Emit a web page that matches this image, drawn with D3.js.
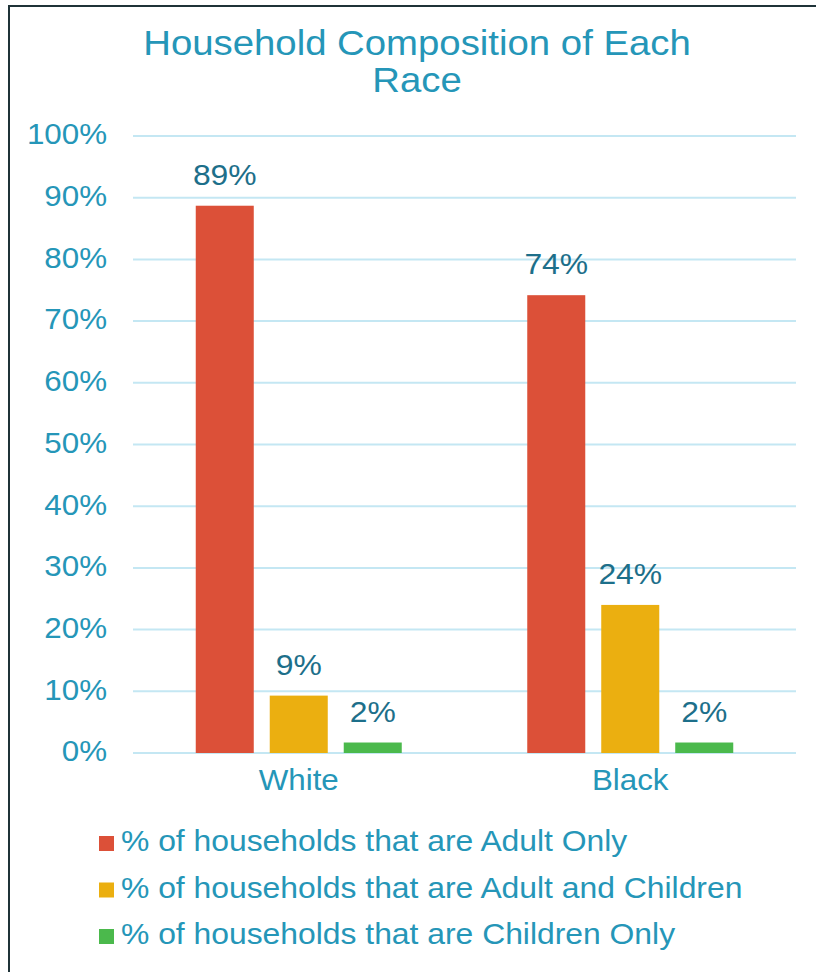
<!DOCTYPE html>
<html>
<head>
<meta charset="utf-8">
<script src="https://cdn.jsdelivr.net/npm/d3@7"></script>
<style>
  html, body { margin: 0; padding: 0; background: #fff; }
  svg { display: block; font-family: "Liberation Sans", Arial, Helvetica, sans-serif; }
</style>
</head>
<body>
<svg id="chart" width="816" height="972"></svg>
<script>
// Household composition by race (share of households)
const categories = ["White", "Black"];
const seriesNames = [
  "% of households that are Adult Only",
  "% of households that are Adult and Children",
  "% of households that are Children Only"
];
const adultOnly = [0.887, 0.742];
const adultAndChildren = [0.093, 0.240];
const childrenOnly = [0.017, 0.017];
const yTicks = [0, 0.1, 0.2, 0.3, 0.4, 0.5, 0.6, 0.7, 0.8, 0.9, 1.0];
const titleLines = ["Household Composition of Each", "Race"];

const seriesValues = [adultOnly, adultAndChildren, childrenOnly];
const colors = ["#DC5038", "#EBAF10", "#4BB94C"];

const SX = 1.08; // horizontal widening of glyphs
const teal = "#2596B8";
const darkTeal = "#1D6F8A";
const gridColor = "#C4E7F3";

const svg = d3.select("#chart");

// frame lines (left and top)
svg.append("line").attr("x1", 9).attr("x2", 9).attr("y1", 5).attr("y2", 972)
  .attr("stroke", "#1F3338").attr("stroke-width", 2);
svg.append("line").attr("x1", 8).attr("x2", 816).attr("y1", 6).attr("y2", 6)
  .attr("stroke", "#1F3338").attr("stroke-width", 2);

const plot = { left: 133, right: 796, top: 136, bottom: 753 };

const y = d3.scaleLinear().domain([0, 1]).range([plot.bottom, plot.top]);
const x0 = d3.scaleBand().domain(categories).range([plot.left, plot.right]).padding(0);
const x1 = d3.scaleBand().domain(d3.range(seriesNames.length))
  .range([0, x0.bandwidth()]).paddingInner(0.216).paddingOuter(0.848);

function placeText(g, x, yPos, text, size, anchor, fill) {
  return g.append("text")
    .attr("transform", `translate(${x},${yPos}) scale(${SX},1)`)
    .attr("text-anchor", anchor)
    .attr("font-size", size)
    .attr("fill", fill)
    .text(text);
}

// title
titleLines.forEach((t, i) => {
  placeText(svg, 417, 55 + i * 37, t, 35.5, "middle", teal);
});

// gridlines
svg.append("g").selectAll("line").data(yTicks).join("line")
  .attr("x1", plot.left).attr("x2", plot.right)
  .attr("y1", d => y(d)).attr("y2", d => y(d))
  .attr("stroke", gridColor).attr("stroke-width", 2);

// y axis labels
const yAxis = svg.append("g").attr("transform", `translate(${plot.left},0)`)
  .call(d3.axisLeft(y).tickValues(yTicks).tickFormat(d3.format(".0%")).tickSize(0).tickPadding(26));
yAxis.select(".domain").remove();
yAxis.selectAll("text")
  .attr("font-family", null)
  .attr("font-size", 29)
  .attr("fill", teal)
  .attr("x", -26 / SX)
  .attr("dy", "0.27em")
  .attr("transform", `scale(${SX},1)`);

// bars
const groups = svg.append("g").selectAll("g").data(categories).join("g")
  .attr("transform", d => `translate(${x0(d)},0)`);

groups.each(function (cat, ci) {
  const g = d3.select(this);
  seriesValues.forEach((vals, si) => {
    const v = vals[ci];
    g.append("rect")
      .attr("x", x1(si))
      .attr("width", x1.bandwidth())
      .attr("y", y(v))
      .attr("height", y(0) - y(v))
      .attr("fill", colors[si]);
    placeText(g, x1(si) + x1.bandwidth() / 2, y(v) - 21, d3.format(".0%")(v), 29.5, "middle", darkTeal);
  });
});

// category labels
categories.forEach(c => {
  placeText(svg, x0(c) + x0.bandwidth() / 2, 790, c, 29, "middle", teal);
});

// legend
const legend = svg.append("g").attr("transform", "translate(99,0)");
seriesNames.forEach((name, i) => {
  const rowY = 851 + i * 46.5;
  legend.append("rect")
    .attr("x", 0).attr("y", rowY - 15)
    .attr("width", 15).attr("height", 15)
    .attr("fill", colors[i]);
  placeText(legend, 22, rowY, name, 29.5, "start", teal);
});
</script>
</body>
</html>
